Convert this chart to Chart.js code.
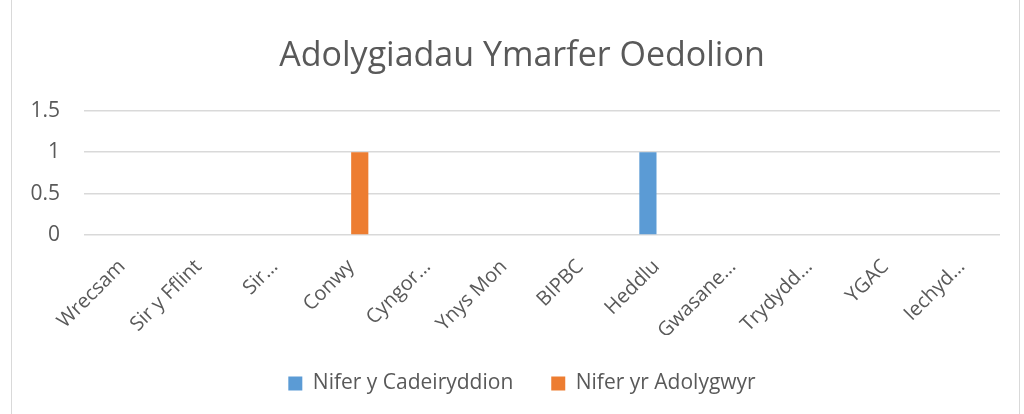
<!DOCTYPE html>
<html>
<head>
<meta charset="utf-8">
<script src="https://cdn.jsdelivr.net/npm/chart.js@4/dist/chart.umd.min.js"></script>
<style>
  html, body { margin: 0; padding: 0; background: #fff; }
  #frame { position: absolute; left: 11px; top: -1px; width: 1007px; height: 420px; border: 1px solid #d9d9d9; }
  #wrap { position: absolute; left: 0; top: 0; width: 1024px; height: 414px; }
</style>
</head>
<body>
<div id="frame"></div>
<div id="wrap"><canvas id="chart" width="1024" height="414"></canvas></div>
<script>
const categories = ['Wrecsam', 'Sir y Fflint', 'Sir…', 'Conwy', 'Cyngor…', 'Ynys Mon', 'BIPBC', 'Heddlu', 'Gwasane…', 'Trydydd…', 'YGAC', 'Iechyd…'];
const cadeiryddion = [0, 0, 0, 0, 0, 0, 0, 1, 0, 0, 0, 0];
const adolygwyr = [0, 0, 0, 1, 0, 0, 0, 0, 0, 0, 0, 0];
const yTicks = [0, 0.5, 1, 1.5];

const FONT = '"Open Sans", sans-serif';
const GREY = '#595959';

new Chart(document.getElementById('chart'), {
  type: 'bar',
  data: {
    labels: categories,
    datasets: [
      { label: 'Nifer y Cadeiryddion', data: cadeiryddion, backgroundColor: '#5B9BD5', categoryPercentage: 0.45, barPercentage: 1 },
      { label: 'Nifer yr Adolygwyr', data: adolygwyr, backgroundColor: '#ED7D31', categoryPercentage: 0.45, barPercentage: 1 }
    ]
  },
  options: {
    responsive: false,
    animation: false,
    layout: { padding: { left: 20, right: 0, top: 26, bottom: 10 } },
    plugins: {
      title: {
        display: true,
        text: 'Adolygiadau Ymarfer Oedolion',
        color: GREY,
        font: { family: FONT, size: 34, weight: 'normal' },
        padding: { top: 10, bottom: 34 }
      },
      legend: {
        position: 'bottom',
        labels: {
          color: GREY,
          font: { family: FONT, size: 21 },
          boxWidth: 14,
          boxHeight: 14,
          padding: 38
        }
      },
      tooltip: { enabled: false }
    },
    scales: {
      x: {
        grid: { display: false },
        border: { display: false },
        ticks: {
          color: GREY,
          font: { family: FONT, size: 20 },
          minRotation: 45,
          maxRotation: 45,
          autoSkip: false,
          padding: 12
        },
        afterFit: s => { s.height = 100; }
      },
      y: {
        min: 0,
        max: 1.5,
        afterBuildTicks: s => { s.ticks = yTicks.map(v => ({ value: v })); },
        grid: { color: '#d9d9d9', lineWidth: 1.5, drawTicks: false },
        border: { display: false },
        ticks: {
          color: GREY,
          font: { family: FONT, size: 21 },
          padding: 24,
          callback: v => String(v)
        },
        afterFit: s => { s.width = 64; }
      },
      // empty spacer on the right so the plot ends where the reference does
      spacer: {
        type: 'linear',
        position: 'right',
        min: 0,
        max: 1,
        grid: { display: false },
        border: { display: false },
        ticks: { display: false },
        afterFit: s => { s.width = 24; }
      }
    }
  }
});
</script>
</body>
</html>
